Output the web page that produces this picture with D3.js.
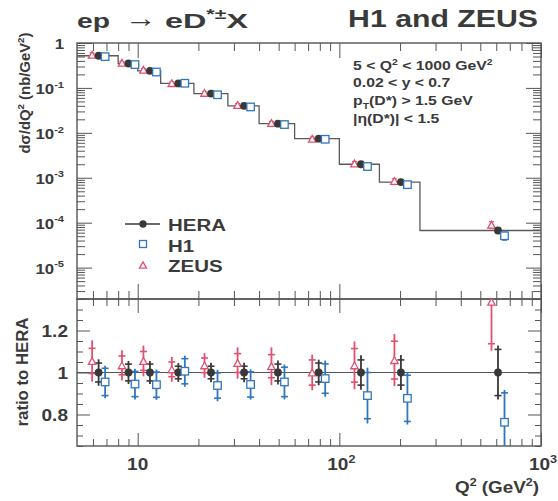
<!DOCTYPE html>
<html>
<head>
<meta charset="utf-8">
<script src="https://cdn.jsdelivr.net/npm/d3@7"></script>
<style>
  body { margin: 0; background: #fff; }
  text { font-family: "Liberation Sans", Arial, Helvetica, sans-serif; font-weight: bold; fill: #3a3a3a; }
</style>
</head>
<body>
<svg id="chart" width="558" height="501"></svg>
<script>
// Q^2 bin edges (GeV^2) and the Q^2 at which each bin's points are drawn
const binEdges = [5, 8, 10, 13, 19, 28, 40, 60, 100, 158, 251, 1000];
const q2Points = [6.4, 9.0, 11.5, 15.9, 23.1, 33.7, 49.6, 79, 128, 202, 612];

// single-differential cross sections d(sigma)/dQ^2 in nb/GeV^2
const heraXsec = [0.52, 0.35, 0.24, 0.126, 0.075, 0.040, 0.016, 0.0074, 0.0020, 0.00080, 6.7e-5];
const h1Xsec   = [0.497, 0.331, 0.226, 0.127, 0.0704, 0.0377, 0.0153, 0.00719, 0.00178, 0.000702, 5.11e-5];
const zeusXsec = [0.549, 0.362, 0.253, 0.128, 0.0776, 0.0418, 0.0165, 0.0074, 0.00207, 0.00085, 8.96e-5];

// ratios to the combined HERA result, with total and statistical uncertainties
const heraRatio = [1, 1, 1, 1, 1, 1, 1, 1, 1, 1, 1];
const heraErr   = [0.063, 0.055, 0.055, 0.045, 0.047, 0.047, 0.057, 0.061, 0.082, 0.083, 0.128];
const heraStat  = [0.045, 0.040, 0.040, 0.030, 0.030, 0.030, 0.040, 0.045, 0.060, 0.060, 0.110];
const h1Ratio   = [0.955, 0.945, 0.942, 1.006, 0.938, 0.943, 0.955, 0.971, 0.890, 0.877, 0.763];
const h1Err     = [0.077, 0.073, 0.072, 0.074, 0.075, 0.072, 0.083, 0.086, 0.133, 0.125, 0.154];
const h1Stat    = [0.065, 0.060, 0.060, 0.060, 0.060, 0.060, 0.070, 0.070, 0.110, 0.110, 0.140];
const zeusRatio = [1.055, 1.034, 1.055, 1.015, 1.034, 1.045, 1.030, 1.000, 1.034, 1.059, 1.337];
const zeusErr   = [0.098, 0.072, 0.073, 0.059, 0.059, 0.075, 0.090, 0.085, 0.114, 0.124, 0.233];
const zeusStat  = [0.060, 0.045, 0.045, 0.035, 0.035, 0.045, 0.055, 0.060, 0.080, 0.090, 0.200];

// tick labels
const xMajorTicks = [10, 100, 1000];
const yTopMajorTicks = [1, 1e-1, 1e-2, 1e-3, 1e-4, 1e-5];
const yRatioMajorTicks = [0.8, 1, 1.2];
const cutLines = ["5 < Q² < 1000 GeV²", "0.02 < y < 0.7", "pT(D*) > 1.5 GeV", "|η(D*)| < 1.5"];
const legendNames = ["HERA", "H1", "ZEUS"];

const C = { hera: "#383838", h1: "#2f76c0", zeus: "#e2506f", axis: "#555", step: "#5a5a5a" };

const svg = d3.select("#chart");
const L = 77, R = 541, T = 43, MID = 299, B = 446;

const x = d3.scaleLog().domain([5, 1000]).range([L, R]);
const yTop = d3.scaleLog().domain([2e-6, 1]).range([MID, T]);
const yR = d3.scaleLinear().domain([0.65, 1.35]).range([B, MID]);

// text helper: parts are {t, sup, sub, size, weight}; optional horizontal fit to a width
function addText(parent, px, py, anchor, size, parts, opt = {}) {
  const g = parent.append("g");
  const t = g.append("text").attr("text-anchor", anchor).style("font-size", size + "px");
  let cur = 0;
  parts.forEach(p => {
    const target = p.sup ? -size * 0.42 : p.sub ? size * 0.28 : 0;
    const ts = t.append("tspan").text(p.t).attr("dy", target - cur);
    if (p.sup || p.sub) ts.style("font-size", (size * 0.66) + "px");
    if (p.size) ts.style("font-size", p.size + "px");
    if (p.weight) ts.style("font-weight", p.weight);
    cur = target;
  });
  let sx = opt.sx || 1;
  if (opt.width) sx = opt.width / t.node().getBBox().width;
  const rot = opt.rotate ? ` rotate(${opt.rotate})` : "";
  g.attr("transform", `translate(${px},${py})${rot} scale(${sx},1)`);
  return sx;
}

// ---------- clip paths ----------
const defs = svg.append("defs");
defs.append("clipPath").attr("id", "clipTop").append("rect").attr("x", L).attr("y", T).attr("width", R - L).attr("height", MID - T);
defs.append("clipPath").attr("id", "clipRatio").append("rect").attr("x", L).attr("y", MID).attr("width", R - L).attr("height", B - MID);

// ---------- tick marks ----------
function tickSet(axisFn, scale, values, size, transform) {
  svg.append("g").attr("transform", transform)
    .call(axisFn(scale).tickValues(values).tickSize(size).tickFormat(""))
    .call(g => g.select(".domain").remove())
    .selectAll("line").attr("stroke", C.axis).attr("stroke-width", 1);
}
const xAll = x.ticks();
const xMinor = xAll.filter(v => !xMajorTicks.includes(v) && v > 5 && v < 1000);
const yTopAll = yTop.ticks().filter(v => v < 1);
const yTopMinor = yTopAll.filter(v => !yTopMajorTicks.some(m => Math.abs(m - v) / m < 1e-6));
const yRAll = d3.range(0.65, 1.351, 0.05).map(v => +v.toFixed(2));
const yRMinor = yRAll.filter(v => !yRatioMajorTicks.includes(v));

// upper panel
tickSet(d3.axisTop, x, xMinor, -8, `translate(0,${T})`);
tickSet(d3.axisTop, x, xMajorTicks, -15, `translate(0,${T})`);
tickSet(d3.axisBottom, x, xMinor, -8, `translate(0,${MID})`);
tickSet(d3.axisBottom, x, xMajorTicks, -15, `translate(0,${MID})`);
tickSet(d3.axisLeft, yTop, yTopMinor, -8, `translate(${L},0)`);
tickSet(d3.axisLeft, yTop, yTopMajorTicks, -15, `translate(${L},0)`);
tickSet(d3.axisRight, yTop, yTopMinor, -8, `translate(${R},0)`);
tickSet(d3.axisRight, yTop, yTopMajorTicks, -15, `translate(${R},0)`);
// ratio panel
tickSet(d3.axisTop, x, xMinor, -7, `translate(0,${MID})`);
tickSet(d3.axisTop, x, xMajorTicks, -14, `translate(0,${MID})`);
tickSet(d3.axisBottom, x, xMinor, -7, `translate(0,${B})`);
tickSet(d3.axisBottom, x, xMajorTicks, -13, `translate(0,${B})`);
tickSet(d3.axisLeft, yR, yRMinor, -6, `translate(${L},0)`);
tickSet(d3.axisLeft, yR, yRatioMajorTicks, -13, `translate(${L},0)`);
tickSet(d3.axisRight, yR, yRMinor, -6, `translate(${R},0)`);
tickSet(d3.axisRight, yR, yRatioMajorTicks, -13, `translate(${R},0)`);

// frames
svg.append("rect").attr("x", L).attr("y", T).attr("width", R - L).attr("height", MID - T)
  .attr("fill", "none").attr("stroke", C.axis).attr("stroke-width", 1.4);
svg.append("rect").attr("x", L).attr("y", MID).attr("width", R - L).attr("height", B - MID)
  .attr("fill", "none").attr("stroke", C.axis).attr("stroke-width", 1.4);

// ---------- markers ----------
function marker(g, kind, cx, cy, s) {
  if (kind === "hera") {
    g.append("circle").attr("cx", cx).attr("cy", cy).attr("r", s * 0.52).attr("fill", C.hera);
  } else if (kind === "h1") {
    g.append("rect").attr("x", cx - s / 2).attr("y", cy - s / 2).attr("width", s).attr("height", s)
      .attr("fill", "#fff").attr("stroke", C.h1).attr("stroke-width", 1.3);
  } else {
    const h = s * 0.9;
    g.append("path").attr("d", `M${cx - s / 2},${cy + h / 2}L${cx + s / 2},${cy + h / 2}L${cx},${cy - h / 2}Z`)
      .attr("fill", "#fff").attr("stroke", C.zeus).attr("stroke-width", 1.3);
  }
}

const dx = { zeus: -6.5, hera: 0, h1: 6.5 };
const sets = [
  { kind: "zeus", xs: zeusXsec, r: zeusRatio, e: zeusErr, s: zeusStat, col: C.zeus },
  { kind: "hera", xs: heraXsec, r: heraRatio, e: heraErr, s: heraStat, col: C.hera },
  { kind: "h1", xs: h1Xsec, r: h1Ratio, e: h1Err, s: h1Stat, col: C.h1 }
];

// ---------- upper panel: step line and points ----------
const upper = svg.append("g").attr("clip-path", "url(#clipTop)");
const stepPts = binEdges.map((e, i) => [e, heraXsec[Math.min(i, heraXsec.length - 1)]]);
upper.append("path").datum(stepPts)
  .attr("d", d3.line().x(d => x(d[0])).y(d => yTop(d[1])).curve(d3.curveStepAfter))
  .attr("fill", "none").attr("stroke", C.step).attr("stroke-width", 1.3);

sets.forEach(S => {
  q2Points.forEach((q, i) => {
    const cx = x(q) + dx[S.kind];
    const rel = S.e[i] / S.r[i];
    const y1 = yTop(S.xs[i] * (1 + rel)), y2 = yTop(S.xs[i] * Math.max(1 - rel, 0.05));
    upper.append("line").attr("x1", cx).attr("x2", cx).attr("y1", y1).attr("y2", y2).attr("stroke", S.col).attr("stroke-width", 1.2);
    [y1, y2].forEach(yy => upper.append("line").attr("x1", cx - 2.5).attr("x2", cx + 2.5).attr("y1", yy).attr("y2", yy).attr("stroke", S.col).attr("stroke-width", 1.2));
  });
});
sets.forEach(S => {
  q2Points.forEach((q, i) => marker(upper, S.kind, x(q) + dx[S.kind], yTop(S.xs[i]), 7.5));
});

// ---------- ratio panel ----------
const rat = svg.append("g").attr("clip-path", "url(#clipRatio)");
rat.append("line").attr("x1", L).attr("x2", R).attr("y1", yR(1)).attr("y2", yR(1)).attr("stroke", C.axis).attr("stroke-width", 1.2);
sets.forEach(S => {
  q2Points.forEach((q, i) => {
    const cx = x(q) + dx[S.kind];
    rat.append("line").attr("x1", cx).attr("x2", cx)
      .attr("y1", yR(S.r[i] + S.e[i])).attr("y2", yR(S.r[i] - S.e[i]))
      .attr("stroke", S.col).attr("stroke-width", 1.8);
    [S.r[i] + S.s[i], S.r[i] - S.s[i]].forEach(v =>
      rat.append("line").attr("x1", cx - 3.5).attr("x2", cx + 3.5).attr("y1", yR(v)).attr("y2", yR(v))
        .attr("stroke", S.col).attr("stroke-width", 1.6));
  });
});
sets.forEach(S => {
  q2Points.forEach((q, i) => marker(rat, S.kind, x(q) + dx[S.kind], yR(S.r[i]), 7.5));
});

// ---------- labels ----------
// process title, in three pieces: beam, arrow, final state
addText(svg, L, 28, "start", 21, [{ t: "ep" }], { width: 33 });
addText(svg, 125, 27, "start", 26, [{ t: "→", weight: "normal" }], { width: 32 });
addText(svg, 165, 28, "start", 21, [{ t: "eD" }, { t: "*±", sup: true }, { t: "X" }], { width: 83 });
addText(svg, 538, 27, "end", 24, [{ t: "H1 and ZEUS" }], { width: 190 });

const cutSx = addText(svg, 353, 70, "start", 13, [{ t: "5 < Q" }, { t: "2", sup: true }, { t: " < 1000 GeV" }, { t: "2", sup: true }], { width: 140 });
addText(svg, 353, 87, "start", 13, [{ t: cutLines[1] }], { sx: cutSx });
addText(svg, 353, 105, "start", 13, [{ t: "p" }, { t: "T", sub: true }, { t: "(D*) > 1.5 GeV" }], { sx: cutSx });
addText(svg, 353, 123, "start", 13, [{ t: cutLines[3] }], { sx: cutSx });

// legend
const lg = svg.append("g");
lg.append("line").attr("x1", 125).attr("x2", 160).attr("y1", 224).attr("y2", 224).attr("stroke", C.hera).attr("stroke-width", 1.3);
marker(lg, "hera", 143, 224, 7);
marker(lg, "h1", 143, 244, 7);
marker(lg, "zeus", 143, 265, 7);
const lgSx = addText(svg, 168, 231, "start", 17, [{ t: legendNames[0] }], { width: 58 });
addText(svg, 168, 252, "start", 17, [{ t: legendNames[1] }], { sx: lgSx });
addText(svg, 168, 272, "start", 17, [{ t: legendNames[2] }], { sx: lgSx });

// y tick labels, upper panel
yTopMajorTicks.forEach(v => {
  const k = Math.round(Math.log10(v));
  const parts = k === 0 ? [{ t: "1" }] : [{ t: "10" }, { t: String(k), sup: true }];
  addText(svg, 64, yTop(v) + 6, "end", 15, parts, { sx: 1.12 });
});
// y tick labels, ratio panel
yRatioMajorTicks.forEach(v => addText(svg, 68, yR(v) + 6, "end", 17, [{ t: String(v) }], { sx: 1.12 }));

// x tick labels
xMajorTicks.forEach(v => {
  const k = Math.round(Math.log10(v));
  const parts = k === 1 ? [{ t: "10" }] : [{ t: "10" }, { t: String(k), sup: true }];
  addText(svg, x(v) + (k === 1 ? 0 : 2), 470, "middle", 17, parts, { sx: 1.12 });
});
addText(svg, 539, 493, "end", 16, [{ t: "Q" }, { t: "2", sup: true }, { t: " (GeV" }, { t: "2", sup: true }, { t: ")" }], { width: 84 });

// axis titles
addText(svg, 30, 93, "middle", 15, [{ t: "dσ/dQ" }, { t: "2", sup: true }, { t: " (nb/GeV" }, { t: "2", sup: true }, { t: ")" }], { rotate: -90, width: 121 });
addText(svg, 28, 372, "middle", 17, [{ t: "ratio to HERA" }], { rotate: -90, width: 109 });
</script>
</body>
</html>
